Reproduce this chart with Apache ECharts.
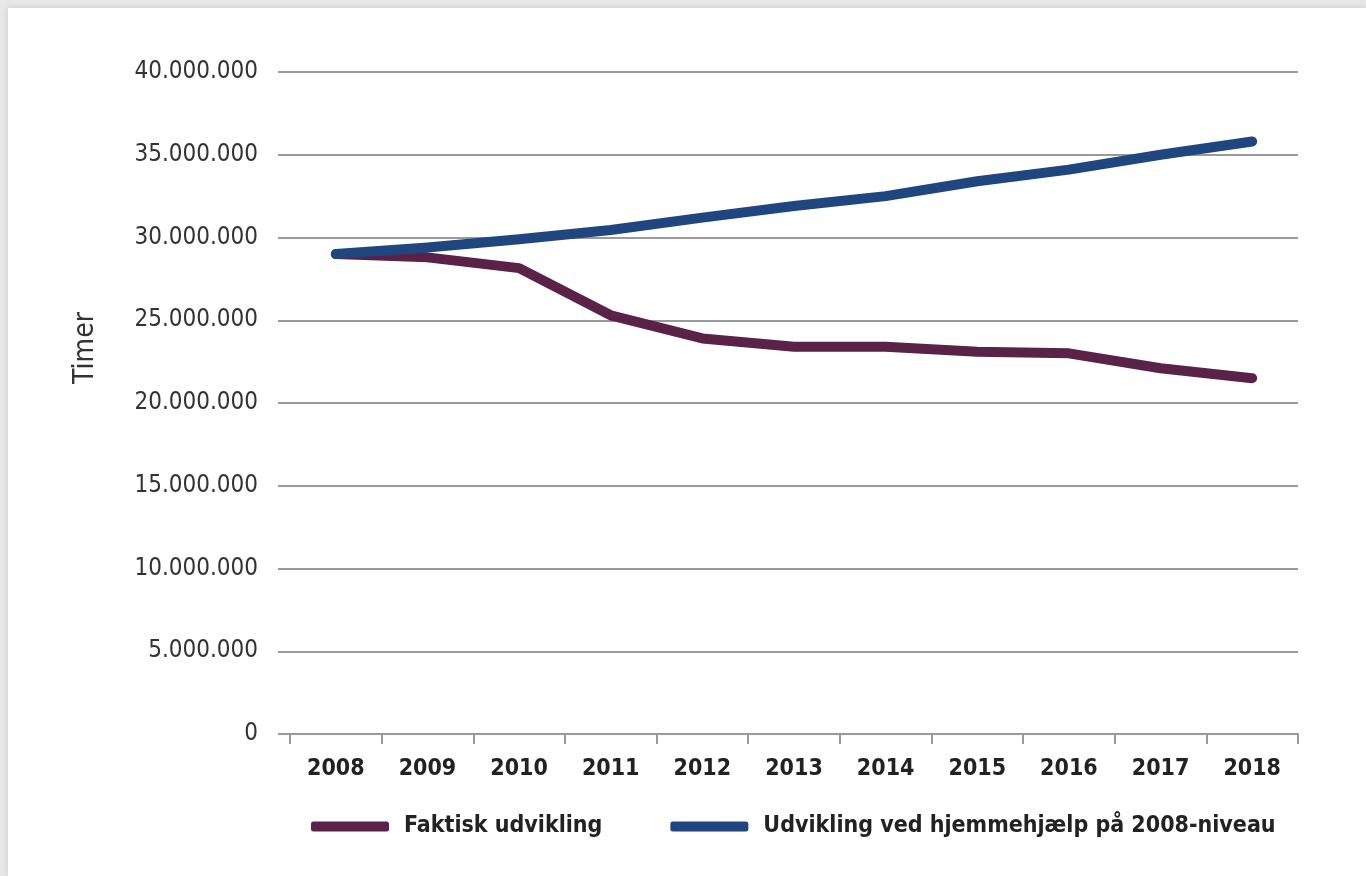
<!DOCTYPE html>
<html>
<head>
<meta charset="utf-8">
<script src="https://cdn.jsdelivr.net/npm/echarts@6/dist/echarts.min.js"></script>
<style>
    html, body { margin: 0; padding: 0; background: #e7e7e7; }
    #card {
        position: absolute; left: 8px; top: 8px; width: 1358px; height: 868px;
        background: #fff; box-shadow: 0 0 6px rgba(0, 0, 0, 0.12);
    }
    #chart { position: absolute; left: 0; top: 0; width: 1366px; height: 876px; }
</style>
</head>
<body>
<div id="card"></div>
<div id="chart"></div>
<script>
// år på x-aksen
const years = ['2008', '2009', '2010', '2011', '2012', '2013', '2014', '2015', '2016', '2017', '2018']
// timer
const faktisk = [29000000, 28800000, 28150000, 25300000, 23900000, 23400000, 23400000, 23100000, 23000000, 22100000, 21500000]
const niveau2008 = [29000000, 29400000, 29900000, 30450000, 31200000, 31900000, 32500000, 33400000, 34100000, 35000000, 35800000]
const seriesNames = ['Faktisk udvikling', 'Udvikling ved hjemmehjælp på 2008-niveau']
const colorList = ['#5b2249', '#1f467f']

const font = '"DejaVu Sans Condensed", "DejaVu Sans", sans-serif'

const myChart = echarts.init(document.getElementById('chart'))

function fmt(v) {
    // dansk tusindtalsseparator
    return String(v).replace(/\B(?=(\d{3})+(?!\d))/g, '.')
}

let option = {
    animation: false,
    grid: {
        left: 290,
        right: 68,
        top: 72,
        bottom: 142
    },
    graphic: [{
        type: 'text',
        left: 72,
        top: 312,
        rotation: Math.PI / 2,
        style: {
            text: 'Timer',
            fontFamily: font,
            fontSize: 28,
            fill: '#333'
        }
    }],
    legend: {
        orient: 'horizontal',
        bottom: 33,
        left: 306,
        width: 1050,
        itemWidth: 78,
        itemHeight: 10,
        itemGap: 68,
        icon: 'roundRect',
        textStyle: {
            fontFamily: font,
            fontWeight: 'bold',
            fontSize: 23,
            color: '#222',
            padding: [0, 0, 0, 10]
        },
        data: seriesNames
    },
    xAxis: {
        type: 'category',
        data: years,
        boundaryGap: true,
        axisLine: {
            lineStyle: { color: '#9a9a9a', width: 2 }
        },
        axisTick: {
            show: true,
            alignWithLabel: false,
            interval: 0,
            length: 10,
            lineStyle: { color: '#9a9a9a', width: 2 }
        },
        axisLabel: {
            margin: 24,
            fontFamily: font,
            fontWeight: 'bold',
            fontSize: 23,
            color: '#222'
        }
    },
    yAxis: {
        type: 'value',
        min: 0,
        max: 40000000,
        interval: 5000000,
        axisLine: { show: false },
        axisTick: {
            show: true,
            length: 12,
            lineStyle: { color: '#9a9a9a', width: 2 }
        },
        axisLabel: {
            margin: 32,
            fontFamily: font,
            fontSize: 24,
            color: '#333',
            formatter: fmt
        },
        splitLine: {
            lineStyle: { color: '#9a9a9a', width: 2 }
        }
    },
    series: [
        {
            name: seriesNames[0],
            type: 'line',
            data: faktisk,
            color: colorList[0],
            symbol: 'none',
            lineStyle: { width: 10, color: colorList[0], cap: 'round', join: 'round' }
        },
        {
            name: seriesNames[1],
            type: 'line',
            data: niveau2008,
            color: colorList[1],
            symbol: 'none',
            lineStyle: { width: 10, color: colorList[1], cap: 'round', join: 'round' }
        }
    ]
}
myChart.setOption(option)
</script>
</body>
</html>
